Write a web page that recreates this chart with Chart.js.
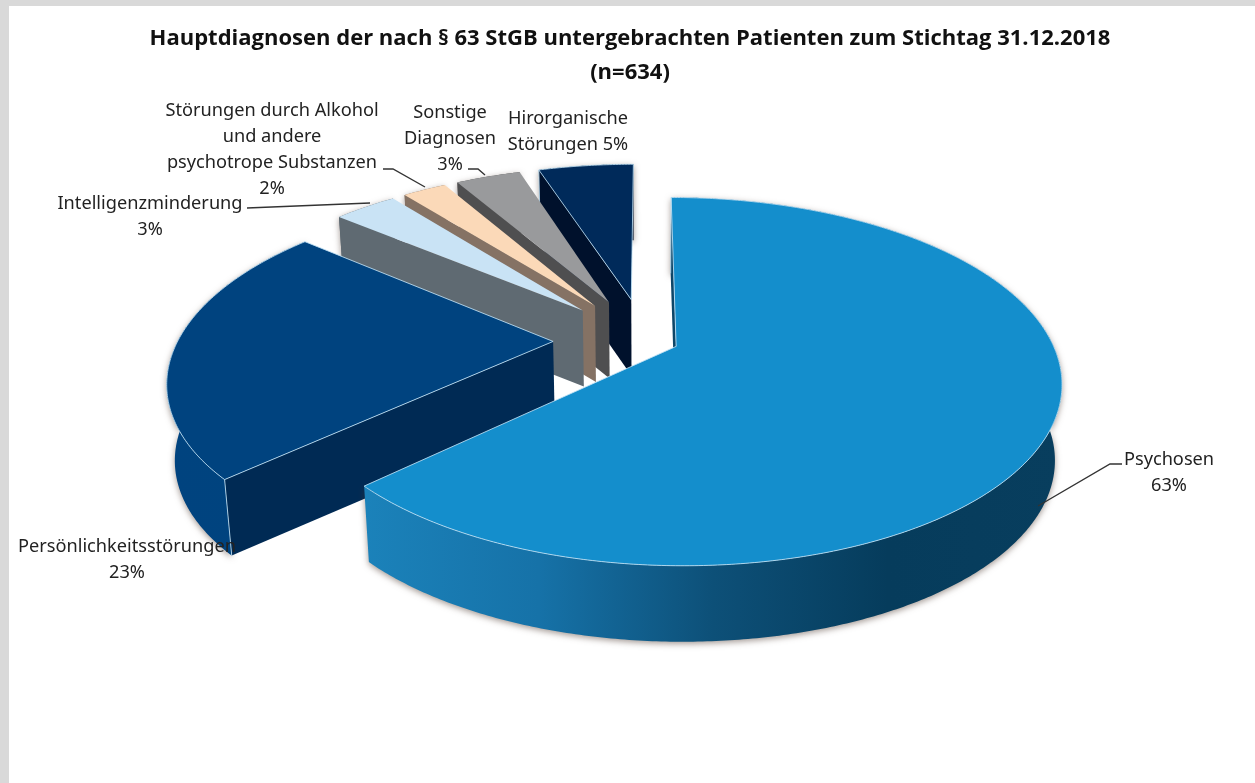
<!DOCTYPE html>
<html lang="de">
<head>
<meta charset="utf-8">
<title>Hauptdiagnosen</title>
<script src="https://cdn.jsdelivr.net/npm/chart.js@4"></script>
<style>
html, body { margin: 0; height: 100%; background: #fff; overflow: hidden; }
#frame { position: fixed; inset: 0; border: solid #d9d9d9; border-width: 6px 0 0 9px; }
#pie { position: absolute; left: 0; top: 0; }
</style>
</head>
<body>
<div id="frame"></div>
<canvas id="pie" width="1255" height="783"></canvas>
<script>
// data
const categories = ["Psychosen", "Persönlichkeitsstörungen", "Intelligenzminderung",
  "Störungen durch Alkohol und andere psychotrope Substanzen", "Sonstige Diagnosen", "Hirorganische Störungen"];
const values = [63, 23, 3.3, 2.3, 3.4, 5];
const topColors = ["#148ecc", "#00437f", "#c9e3f5", "#fbd9b8", "#999a9c", "#002a5a"];
const wallColors = ["#0d4668", "#002a54", "#5f6a72", "#857264", "#4f4f50", "#00112c"];
const rimColors = [
  ["#1b82ba", "#1672a8", "#0d5078", "#063c5c", "#083e5e"],
  ["#00437f", "#00447f"],
  ["#5f6a72", "#5f6a72"],
  ["#857264", "#857264"],
  ["#4f4f50", "#4f4f50"],
  ["#00112c", "#00112c"]
];
const offsets = [20, 54.5, 54.5, 54.5, 54.5, 54.5];
const edgeLines = [true, true, false, false, false, true];
const titleLines = ["Hauptdiagnosen der nach § 63 StGB untergebrachten Patienten zum Stichtag 31.12.2018", "(n=634)"];

// text of the labels, then where they sit
const labelLines = [
  ["Psychosen", "63%"],
  ["Persönlichkeitsstörungen", "23%"],
  ["Intelligenzminderung", "3%"],
  ["Störungen durch Alkohol", "und andere", "psychotrope Substanzen", "2%"],
  ["Sonstige", "Diagnosen", "3%"],
  ["Hirorganische", "Störungen 5%"]
];
const labelSpots = [[1169, 460], [127, 547], [150, 204], [272, 111], [450, 113], [568, 119]];
const leaders = [
  [[1038, 506], [1110, 464], [1122, 464]],
  [],
  [[247, 208], [370, 203]],
  [[383, 169], [393, 169], [425, 187]],
  [[468, 169], [478, 169], [485, 175]],
  []
];

// fake 3d view of the flat pie
const view = { shiftX: 15, rx: 375, ry: 175, persp: 0.19, depth: 76, shrink: 0.983 };

function project(arc, u, v, low) {
  const k = 1 / (1 - view.persp * v);
  let x = view.rx * u * k;
  let y = view.ry * v * k;
  if (low) { x *= view.shrink; y += view.depth; }
  return [arc.x + view.shiftX + x, arc.y + y];
}

function trace(ctx, pts) {
  ctx.beginPath();
  pts.forEach((p, i) => i ? ctx.lineTo(p[0], p[1]) : ctx.moveTo(p[0], p[1]));
}

function drawSlice(ctx, arc, i) {
  const e = arc.options.offset / arc.outerRadius;
  const mid = (arc.startAngle + arc.endAngle) / 2;
  const ax = e * Math.cos(mid), ay = e * Math.sin(mid);
  const steps = Math.max(2, Math.ceil((arc.endAngle - arc.startAngle) / 0.01));
  const top = [], low = [];
  for (let s = 0; s <= steps; s++) {
    const a = arc.startAngle + (arc.endAngle - arc.startAngle) * s / steps;
    top.push(project(arc, ax + Math.cos(a), ay + Math.sin(a), false));
    low.push(project(arc, ax + Math.cos(a), ay + Math.sin(a), true));
  }
  const apexTop = project(arc, ax, ay, false);
  const apexLow = project(arc, ax, ay, true);

  // outer rim
  const xs = top.map(p => p[0]);
  const grad = ctx.createLinearGradient(Math.min(...xs), 0, Math.max(...xs), 0);
  rimColors[i].forEach((c, n) => grad.addColorStop(n / (rimColors[i].length - 1), c));
  ctx.save();
  ctx.shadowColor = "rgba(70,50,40,.5)";
  ctx.shadowBlur = 6;
  ctx.shadowOffsetY = 2;
  trace(ctx, top.concat(low.slice().reverse()));
  ctx.closePath();
  ctx.fillStyle = grad;
  ctx.fill();
  ctx.restore();

  // side wall on the start edge
  trace(ctx, [apexTop, top[0], low[0], apexLow]);
  ctx.closePath();
  ctx.fillStyle = wallColors[i];
  ctx.fill();

  // top face
  trace(ctx, [apexTop].concat(top));
  ctx.closePath();
  ctx.fillStyle = topColors[i];
  ctx.fill();

  if (edgeLines[i]) {
    ctx.strokeStyle = "rgba(190,225,245,.85)";
    ctx.lineWidth = 1;
    ctx.stroke();
    trace(ctx, [top[0], low[0]]);
    ctx.stroke();
  }
}

const pie3d = {
  id: "pie3d",
  beforeDatasetDraw() { return false; },
  afterDatasetsDraw(chart) {
    const ctx = chart.ctx;
    const arcs = chart.getDatasetMeta(0).data;
    ctx.save();
    for (let i = arcs.length - 1; i >= 0; i--) drawSlice(ctx, arcs[i], i);
    ctx.restore();
  },
  afterDraw(chart) {
    const ctx = chart.ctx;
    ctx.save();
    ctx.strokeStyle = "#333";
    ctx.lineWidth = 1.4;
    leaders.forEach(line => {
      if (line.length) { trace(ctx, line); ctx.stroke(); }
    });
    ctx.fillStyle = "#222";
    ctx.font = "18.2px 'Noto Sans'";
    ctx.textAlign = "center";
    ctx.textBaseline = "middle";
    labelLines.forEach((lines, i) => {
      lines.forEach((t, n) => ctx.fillText(t, labelSpots[i][0], labelSpots[i][1] + n * 26));
    });
    ctx.restore();
  }
};

new Chart(document.getElementById("pie"), {
  type: "pie",
  data: {
    labels: categories,
    datasets: [{
      data: values,
      backgroundColor: topColors,
      offset: offsets,
      borderWidth: 0
    }]
  },
  options: {
    responsive: false,
    animation: false,
    layout: { padding: { left: 5, bottom: 193 } },
    plugins: {
      legend: { display: false },
      tooltip: { enabled: false },
      title: {
        display: true,
        text: titleLines,
        color: "#111",
        font: { family: "'Open Sans'", size: 22, weight: "bold", lineHeight: 1.55 },
        padding: { top: 22, bottom: 0 }
      }
    }
  },
  plugins: [pie3d]
});
</script>
</body>
</html>
